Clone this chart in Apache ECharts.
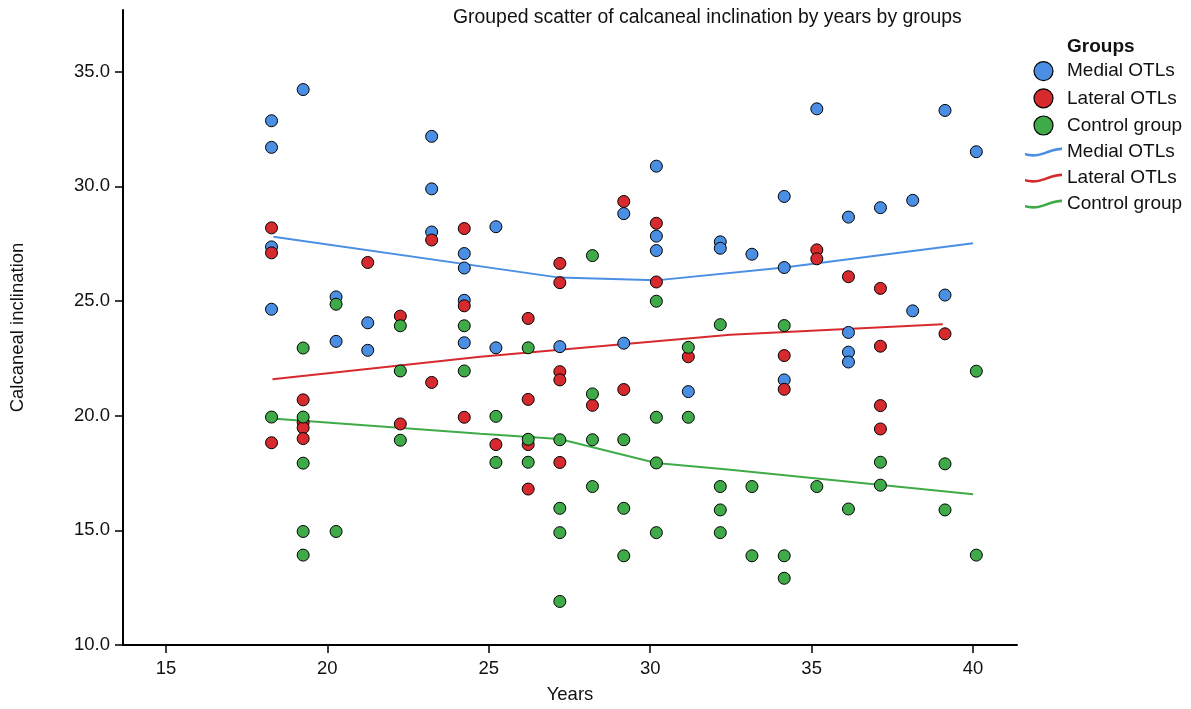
<!DOCTYPE html>
<html>
<head>
<meta charset="utf-8">
<script src="https://cdn.jsdelivr.net/npm/echarts@6/dist/echarts.min.js"></script>
<style>
html,body{margin:0;padding:0;background:#fff;}
#chart{width:1191px;height:709px;}
</style>
</head>
<body>
<div id="chart"></div>
<script>
// ---- Data ----
const groupNames = ['Medial OTLs', 'Lateral OTLs', 'Control group'];

const medialYears = [18.27,18.27,18.27,18.27, 19.25, 20.27,20.27, 21.25,21.25, 23.23,23.23,23.23,
  24.24,24.24,24.24,24.24, 25.22,25.22, 27.2, 29.18,29.18, 30.19,30.19,30.19, 31.18, 32.17,32.17,
  33.15, 34.15,34.15,34.15, 35.16, 36.14,36.14,36.14,36.14, 37.13, 38.13,38.13, 39.13,39.13, 40.1];
const medialValues = [32.86,31.70,27.36,24.64, 34.22, 25.18,23.24, 24.05,22.85, 32.18,29.89,28.01,
  27.07,26.44,25.03,23.18, 28.24,22.96, 23.01, 28.81,23.16, 30.88,27.83,27.20, 21.05, 27.58,27.30,
  27.04, 29.56,26.46,21.56, 33.38, 28.66,23.63,22.77,22.34, 29.07, 29.39,24.57, 33.31,25.26, 31.51];

const lateralYears = [18.27,18.27,18.27, 19.25,19.25,19.25,19.25, 21.25, 22.26,22.26, 23.23,23.23,
  24.24,24.24,24.24, 25.22, 26.22,26.22,26.22,26.22, 27.2,27.2,27.2,27.2,27.2, 28.21, 29.18,29.18,
  30.19,30.19, 31.18, 34.15,34.15, 35.16,35.16, 36.14, 37.13,37.13,37.13,37.13, 39.13];
const lateralValues = [28.19,27.10,18.82, 20.69,19.71,19.47,19.00, 26.68, 24.34,19.64, 27.66,21.45,
  28.16,24.79,19.93, 18.74, 24.24,20.71,18.74,16.80, 26.64,25.80,21.92,21.56,17.96, 20.45, 29.34,21.14,
  28.39,25.83, 22.57, 22.62,21.15, 27.23,26.84, 26.06, 25.55,23.03,20.44,19.42, 23.57];

const controlYears = [18.27, 19.25,19.25,19.25,19.25,19.25, 20.27,20.27, 22.26,22.26,22.26, 24.24,24.24,
  25.22,25.22, 26.22,26.22,26.22, 27.2,27.2,27.2,27.2, 28.21,28.21,28.21,28.21, 29.18,29.18,29.18,
  30.19,30.19,30.19,30.19, 31.18,31.18, 32.17,32.17,32.17,32.17, 33.15,33.15, 34.15,34.15,34.15,
  35.16, 36.14, 37.13,37.13, 39.13,39.13, 40.1,40.1];
const controlValues = [19.94, 22.95,19.94,17.93,14.95,13.92, 24.86,14.95, 23.92,21.95,18.93, 23.92,21.95,
  19.97,17.96, 22.96,18.97,17.97, 18.95,15.96,14.90,11.90, 26.98,20.95,18.95,16.91, 18.95,15.96,13.89,
  24.99,19.93,17.94,14.90, 22.98,19.93, 23.97,16.91,15.89,14.90, 16.91,13.89, 23.93,13.89,12.91,
  16.91, 15.93, 17.97,16.97, 17.90,15.89, 21.94,13.92];

// fitted curves
const medialFitYears = [18.33, 27.19, 30.18, 34.15, 40.0];
const medialFitValues = [27.80, 26.02, 25.90, 26.46, 27.52];
const lateralFitYears = [18.30, 24.74, 32.48, 39.06];
const lateralFitValues = [21.59, 22.57, 23.53, 23.99];
const controlFitYears = [18.39, 24.74, 27.19, 30.18, 32.48, 40.0];
const controlFitValues = [19.87, 19.21, 18.98, 17.94, 17.64, 16.57];

const xTickValues = [15, 20, 25, 30, 35, 40];
const yTickValues = [10, 15, 20, 25, 30, 35];

// ---- Styling ----
const colors = ['#4a8fe4', '#d62a2e', '#3fab48'];
const FONT = 'Liberation Sans, Arial, Helvetica, sans-serif';

function pairs(xs, ys) { return xs.map((x, i) => [x, ys[i]]); }

const scatterData = [pairs(medialYears, medialValues), pairs(lateralYears, lateralValues), pairs(controlYears, controlValues)];
const fitData = [pairs(medialFitYears, medialFitValues), pairs(lateralFitYears, lateralFitValues), pairs(controlFitYears, controlFitValues)];

const lineNames = groupNames.map(n => n + ' ');
const wavePath = 'path://M0,6 C6,7.6 12,7.4 18.5,5.2 C25,3 31,0.4 37,0.6 L37,3.2 C31,3 25,5.6 18.5,7.8 C12,10 6,10.2 0,8.6 Z';

const series = [];
// lines first (under points)
[0, 1, 2].forEach(i => {
  series.push({
    name: lineNames[i], type: 'line', data: fitData[i], showSymbol: false, symbol: 'none',
    smooth: false, z: 1,
    lineStyle: { color: colors[i], width: 2 }, itemStyle: { color: colors[i] }
  });
});
// scatter draw order: medial, control, lateral
[0, 2, 1].forEach(i => {
  series.push({
    name: groupNames[i], type: 'scatter', data: scatterData[i], symbolSize: 12, z: 3 + i,
    itemStyle: { color: colors[i], borderColor: '#000', borderWidth: 1, opacity: 1 }
  });
});

const legendData = [];
[0, 1, 2].forEach(i => legendData.push({ name: groupNames[i], icon: 'circle',
  itemStyle: { color: colors[i], borderColor: '#000', borderWidth: 1.2 } }));
[0, 1, 2].forEach(i => legendData.push({ name: lineNames[i], icon: wavePath,
  itemStyle: { color: colors[i], borderWidth: 0 } }));

const chart = echarts.init(document.getElementById('chart'), null, { renderer: 'canvas' });
chart.setOption({
  animation: false,
  backgroundColor: '#ffffff',
  title: [
    { text: 'Grouped scatter of calcaneal inclination by years by groups', left: 448, top: 3,
      textStyle: { fontFamily: FONT, fontSize: 19.4, fontWeight: 'normal', color: '#111' } },
    { text: 'Groups', left: 1062, top: 32,
      textStyle: { fontFamily: FONT, fontSize: 19, fontWeight: 'bold', color: '#111' } }
  ],
  legend: {
    orient: 'vertical', left: 1020, top: 56, itemWidth: 37, itemHeight: 19, itemGap: 7,
    textStyle: { fontFamily: FONT, fontSize: 19, color: '#111' },
    data: legendData, selectedMode: false
  },
  grid: { left: 123, right: 174, top: 10, bottom: 61, containLabel: false },
  xAxis: {
    type: 'value', min: 13.67, max: 41.36,
    name: 'Years', nameLocation: 'middle', nameGap: 40,
    nameTextStyle: { fontFamily: FONT, fontSize: 18.5, color: '#111' },
    axisLine: { show: true, lineStyle: { color: '#000', width: 2 } },
    axisTick: { show: true, length: 8, customValues: xTickValues, lineStyle: { color: '#000', width: 1.5 } },
    axisLabel: { customValues: xTickValues, fontFamily: FONT, fontSize: 18.5, color: '#111', margin: 14 },
    splitLine: { show: false }
  },
  yAxis: {
    type: 'value', min: 10, max: 37.69,
    name: 'Calcaneal inclination', nameLocation: 'middle', nameGap: 96,
    nameTextStyle: { fontFamily: FONT, fontSize: 18.5, color: '#111' },
    axisLine: { show: true, lineStyle: { color: '#000', width: 2 } },
    axisTick: { show: true, length: 8, customValues: yTickValues, lineStyle: { color: '#000', width: 1.5 } },
    axisLabel: { customValues: yTickValues, fontFamily: FONT, fontSize: 18.5, color: '#111', margin: 13,
      formatter: v => Number(v).toFixed(1) },
    splitLine: { show: false }
  },
  series: series
});
</script>
</body>
</html>
